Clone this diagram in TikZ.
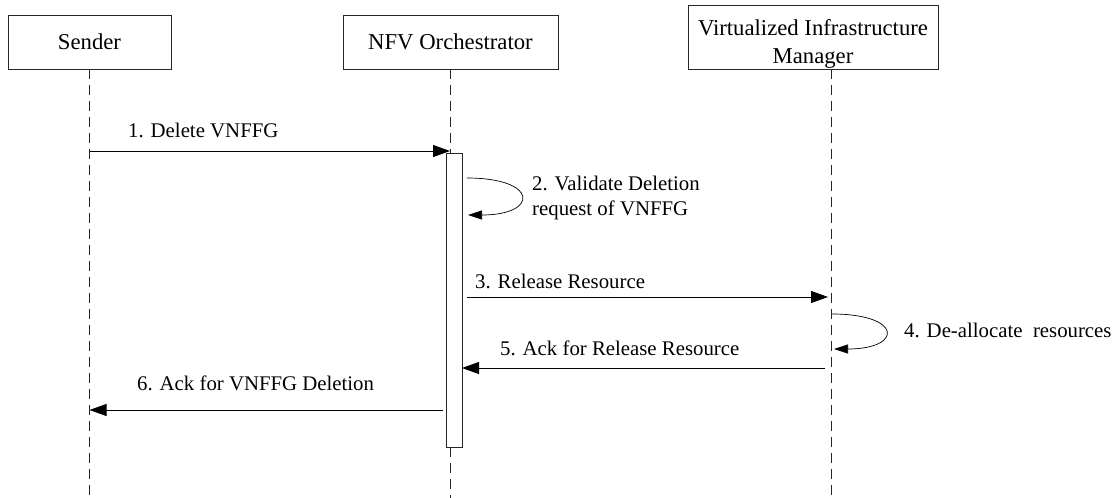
\documentclass[tikz,border=0pt]{standalone}
\usepackage{fontspec}
\setmainfont{Liberation Serif}
\usetikzlibrary{arrows.meta}
\tikzstyle{actor}=[draw=black!85,line width=0.8pt,inner ysep=1pt,align=center,font=\fontsize{22.7}{28}\selectfont]
\tikzstyle{activ}=[draw=black!85,fill=white,line width=0.8pt,minimum width=16pt,minimum height=294pt,inner sep=0pt]
\tikzstyle{life}=[black!85,line width=0.8pt,dash pattern=on 10pt off 6pt]
\tikzstyle{msg}=[-{Triangle[length=17pt,width=12pt]},line width=0.9pt]
\tikzstyle{selfmsg}=[-{Triangle[length=14pt,width=9pt]},line width=0.7pt]
\tikzstyle{lbl}=[inner sep=0pt,anchor=base west]

\begin{document}
\begin{tikzpicture}[x=1pt,y=-1pt,font=\fontsize{20.8}{25}\selectfont]
\useasboundingbox (0,0) rectangle (1112,498);
\node[actor,minimum width=163pt,minimum height=54pt] (S) at (89.5,42) {Sender};
\node[actor,minimum width=215pt,minimum height=54pt] (N) at (450.5,42) {NFV Orchestrator};
\node[actor,minimum width=250pt,minimum height=64pt] (V) at (813,37) {\rule{0pt}{28.9pt}Virtualized Infrastructure\\Manager};
\node[activ] (A) at (454,300) {};
\coordinate (Sb) at (89.5,498);
\coordinate (Nb) at (450.5,498);
\coordinate (Vt) at (831,69);
\coordinate (Vb) at (831,498);
\draw[life] (S) -- (Sb);
\draw[life] (N) -- (N |- A.north);
\draw[life] (N |- A.south) -- (Nb);
\draw[life] (Vt) -- (Vb);

\coordinate (s1) at (89.5,151); \coordinate (n1) at (450,151);
\draw[msg] (s1) -- (n1);
\node[lbl] (l1) at (128,137) {1. Delete VNFFG};
\coordinate (n2a) at (467,178); \coordinate (n2b) at (468,215);
\draw[selfmsg] (n2a) .. controls (539,178) and (539,215) .. (n2b);
\node[lbl,anchor=west,align=left] (l2) at (532,197.6) {2. Validate Deletion\\request of VNFFG};
\coordinate (n3) at (467,297); \coordinate (v3) at (828,297);
\draw[msg] (n3) -- (v3);
\node[lbl] (l3) at (475,288) {3. Release Resource};
\coordinate (v4a) at (832,314); \coordinate (v4b) at (834,349);
\draw[selfmsg] (v4a) .. controls (903,314) and (903,349) .. (v4b);
\node[lbl] (l4) at (904,337) {4. De-allocate\ \ resources};
\coordinate (v5) at (825,368); \coordinate (n5) at (462,368);
\draw[msg] (v5) -- (n5);
\node[lbl] (l5) at (500,355) {5. Ack for Release Resource};
\coordinate (n6) at (443,410); \coordinate (s6) at (89.5,410);
\draw[msg] (n6) -- (s6);
\node[lbl] (l6) at (137,390) {6. Ack for VNFFG Deletion};
\end{tikzpicture}
\end{document}
